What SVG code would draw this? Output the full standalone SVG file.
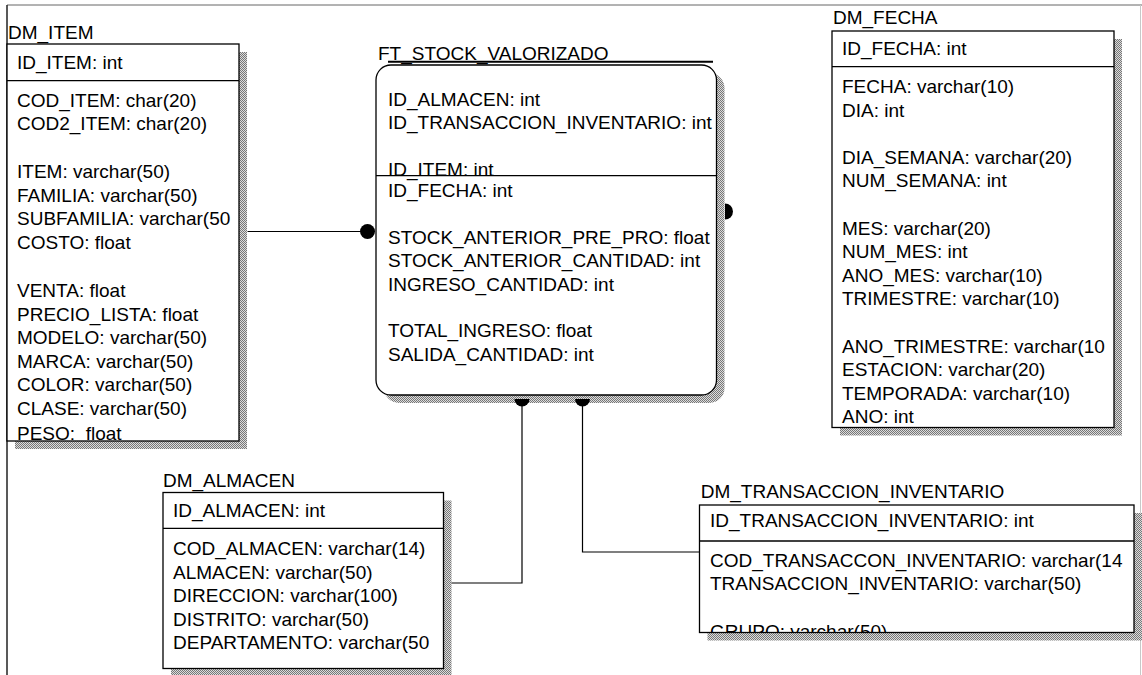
<svg xmlns="http://www.w3.org/2000/svg" width="1142" height="675" viewBox="0 0 1142 675">
<style>
 text{font-family:"Liberation Sans",Arial,sans-serif;font-size:19px;fill:#000}
 .box{fill:#fff;stroke:#000;stroke-width:1.3}
 .sh{fill:url(#dither)}
 .sep{stroke:#000;stroke-width:1.3}
 .conn{fill:none;stroke:#000;stroke-width:1.2}
 .dot{fill:#000}
</style>
<defs>
 <pattern id="dither" width="2" height="2" patternUnits="userSpaceOnUse">
  <rect width="2" height="2" fill="#dcdcdc"/>
  <rect width="1" height="1" fill="#777"/>
  <rect x="1" y="1" width="1" height="1" fill="#777"/>
 </pattern>
 <clipPath id="cItem"><rect x="8" y="45" width="230.5" height="396"/></clipPath>
 <clipPath id="cFT"><rect x="377" y="66" width="339" height="328" rx="14"/></clipPath>
 <clipPath id="cFecha"><rect x="833" y="32" width="280.5" height="395.5"/></clipPath>
 <clipPath id="cAlm"><rect x="164" y="493.5" width="279" height="175"/></clipPath>
 <clipPath id="cTrans"><rect x="700.5" y="506" width="433" height="126.5"/></clipPath>
</defs>
<rect width="1142" height="675" fill="#fff"/>
<g id="frame">
 <line x1="7" y1="5" x2="1142" y2="5" stroke="#666" stroke-width="1"/>
 <line x1="7" y1="5" x2="7" y2="675" stroke="#222" stroke-width="1.5"/>
 <line x1="1140.5" y1="5" x2="1140.5" y2="675" stroke="#c8c8c8" stroke-width="1"/>
</g>

<g id="DM_ITEM">
 <text x="8" y="38.5">DM_ITEM</text>
 <rect class="sh" x="15" y="52" width="232" height="397"/>
 <rect class="box" x="7" y="44" width="232" height="397"/>
 <line class="sep" x1="7" y1="80.7" x2="239" y2="80.7"/>
 <g clip-path="url(#cItem)">
  <text x="17" y="68.5">ID_ITEM: int</text>
  <text x="17" y="106.5">COD_ITEM: char(20)</text>
  <text x="17" y="130">COD2_ITEM: char(20)</text>
  <text x="17" y="178">ITEM: varchar(50)</text>
  <text x="17" y="201.5">FAMILIA: varchar(50)</text>
  <text x="17" y="225">SUBFAMILIA: varchar(50</text>
  <text x="17" y="248.5">COSTO: float</text>
  <text x="17" y="297">VENTA: float</text>
  <text x="17" y="320.6">PRECIO_LISTA: float</text>
  <text x="17" y="344.2">MODELO: varchar(50)</text>
  <text x="17" y="367.8">MARCA: varchar(50)</text>
  <text x="17" y="391.4">COLOR: varchar(50)</text>
  <text x="17" y="415">CLASE: varchar(50)</text>
  <text x="17" y="440" xml:space="preserve">PESO:  float</text>
 </g>
</g>

<g id="FT_STOCK_VALORIZADO">
 <text x="378" y="59.5">FT_STOCK_VALORIZADO</text>
 <line x1="388" y1="61.7" x2="713" y2="61.7" stroke="#000" stroke-width="2"/>
 <rect class="sh" x="384" y="73" width="340.5" height="330" rx="15"/>
 <rect class="box" x="376" y="65" width="340.5" height="330" rx="15"/>
 <line class="sep" x1="376" y1="175.7" x2="716.5" y2="175.7"/>
 <g clip-path="url(#cFT)">
  <text x="388" y="106">ID_ALMACEN: int</text>
  <text x="388" y="128.5">ID_TRANSACCION_INVENTARIO: int</text>
  <text x="388" y="175.5">ID_ITEM: int</text>
  <text x="388" y="196.5">ID_FECHA: int</text>
  <text x="388" y="243.5">STOCK_ANTERIOR_PRE_PRO: float</text>
  <text x="388" y="267">STOCK_ANTERIOR_CANTIDAD: int</text>
  <text x="388" y="290.5">INGRESO_CANTIDAD: int</text>
  <text x="388" y="337">TOTAL_INGRESO: float</text>
  <text x="388" y="360.5">SALIDA_CANTIDAD: int</text>
 </g>
</g>

<g id="DM_FECHA">
 <text x="833" y="23.5">DM_FECHA</text>
 <rect class="sh" x="840" y="39" width="282" height="396.5"/>
 <rect class="box" x="832" y="31" width="282" height="396.5"/>
 <line class="sep" x1="832" y1="66.7" x2="1114" y2="66.7"/>
 <g clip-path="url(#cFecha)">
  <text x="842" y="55">ID_FECHA: int</text>
  <text x="842" y="93">FECHA: varchar(10)</text>
  <text x="842" y="116.6">DIA: int</text>
  <text x="842" y="163.8">DIA_SEMANA: varchar(20)</text>
  <text x="842" y="187.4">NUM_SEMANA: int</text>
  <text x="842" y="234.6">MES: varchar(20)</text>
  <text x="842" y="258.2">NUM_MES: int</text>
  <text x="842" y="281.8">ANO_MES: varchar(10)</text>
  <text x="842" y="305.4">TRIMESTRE: varchar(10)</text>
  <text x="842" y="352.6">ANO_TRIMESTRE: varchar(10</text>
  <text x="842" y="376.2">ESTACION: varchar(20)</text>
  <text x="842" y="399.8">TEMPORADA: varchar(10)</text>
  <text x="842" y="423.4">ANO: int</text>
 </g>
</g>

<g id="DM_ALMACEN">
 <text x="163" y="486.7">DM_ALMACEN</text>
 <rect class="sh" x="171" y="500.5" width="280.5" height="176"/>
 <rect class="box" x="163" y="492.5" width="280.5" height="176"/>
 <line class="sep" x1="163" y1="528.3" x2="443.5" y2="528.3"/>
 <g clip-path="url(#cAlm)">
  <text x="173" y="517">ID_ALMACEN: int</text>
  <text x="173" y="555">COD_ALMACEN: varchar(14)</text>
  <text x="173" y="578.5">ALMACEN: varchar(50)</text>
  <text x="173" y="602">DIRECCION: varchar(100)</text>
  <text x="173" y="625.5">DISTRITO: varchar(50)</text>
  <text x="173" y="649">DEPARTAMENTO: varchar(50</text>
 </g>
</g>

<g id="DM_TRANSACCION_INVENTARIO">
 <text x="700.7" y="498.3">DM_TRANSACCION_INVENTARIO</text>
 <rect class="sh" x="707.5" y="513" width="434.5" height="127.5"/>
 <rect class="box" x="699.5" y="505" width="434.5" height="127.5"/>
 <line class="sep" x1="699.5" y1="541" x2="1134" y2="541"/>
 <g clip-path="url(#cTrans)">
  <text x="710" y="527">ID_TRANSACCION_INVENTARIO: int</text>
  <text x="710" y="566.7">COD_TRANSACCON_INVENTARIO: varchar(14</text>
  <text x="710" y="590.3">TRANSACCION_INVENTARIO: varchar(50)</text>
  <text x="710" y="637.5">GRUPO: varchar(50)</text>
 </g>
</g>

<g id="connectors">
 <line class="conn" x1="247.5" y1="231.5" x2="362" y2="231.5"/>
 <circle class="dot" cx="367.5" cy="231.5" r="7.5"/>
 <path class="dot" d="M725,203.5 A8,8 0 0 1 725,219.5 Z"/>
 <path class="conn" d="M522,405 V583 H451.5"/>
 <path class="dot" d="M514.5,399 A7.5,7.5 0 0 0 529.5,399 Z"/>
 <path class="conn" d="M582.5,405 V552 H699.5"/>
 <path class="dot" d="M575,399 A7.5,7.5 0 0 0 590,399 Z"/>
</g>
</svg>
